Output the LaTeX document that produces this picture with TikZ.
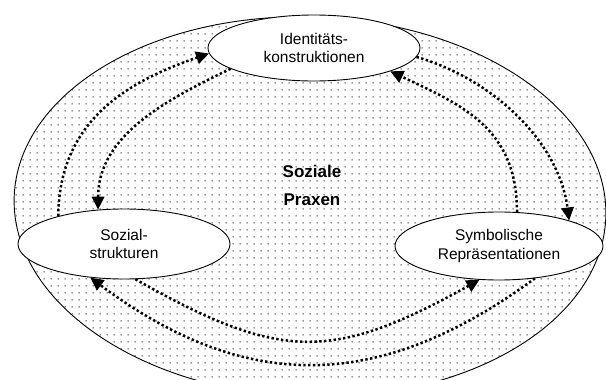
\documentclass[tikz,border=0pt]{standalone}
\usepackage{fontspec}
\setmainfont{Liberation Sans}
\usetikzlibrary{shapes.geometric,arrows.meta,patterns.meta}
\tikzdeclarepattern{
  name=bgdots,
  type=uncolored,
  bounding box={(0pt,0pt) and (6.6pt,6.6pt)},
  tile size={(6.6pt,6.6pt)},
  code={\fill (3.3pt,3.3pt) circle (0.85pt);}
}
\begin{document}
\begin{tikzpicture}[x=1pt,y=-1pt,
  bubble/.style={draw=black, line width=0.9pt, fill=white, ellipse, inner sep=0pt,
    align=center, font=\fontsize{15.5}{18.5}\selectfont},
  link/.style={line width=2.5pt, dash pattern=on 2.4pt off 2.4pt,
    -{Triangle[length=13pt,width=12.5pt]}},
]
\useasboundingbox (0,0) rectangle (606,380);
\fill[white] (0,0) rectangle (606,380);
\clip (0,0) rectangle (606,380);
\coordinate (oc) at (310,207);
\draw[line width=0.9pt, pattern=bgdots, pattern color=black!55, rotate around={-2:(oc)}]
  (oc) ellipse [x radius=296pt, y radius=190pt];
\node[bubble, minimum width=212pt, minimum height=66pt] (I) at (314,48) {Identitäts-\\konstruktionen};
\node[bubble, minimum width=212pt, minimum height=70pt] (S) at (124,244) {Sozial-\\strukturen};
\node[bubble, minimum width=208pt, minimum height=68pt] (Y) at (499,246) {Symbolische\\Repräsentationen};
\node[font=\bfseries\fontsize{17}{28}\selectfont, align=center] (P) at (312,185) {Soziale\\Praxen};
\draw[link] (S.157) .. controls (59,120) and (129,81) .. (I.183);
\draw[link] (I.194) .. controls (168,99) and (98,135) .. (S.127);
\draw[link] (I.355) .. controls (493,79) and (559,142) .. (Y.20);
\draw[link] (Y.62) .. controls (517,128) and (462,105) .. (I.343);
\draw[link] (S.288) .. controls (281,362) and (333,361) .. (Y.240);
\draw[link] (Y.318) .. controls (379,393) and (245,393) .. (S.225);
\end{tikzpicture}
\end{document}
